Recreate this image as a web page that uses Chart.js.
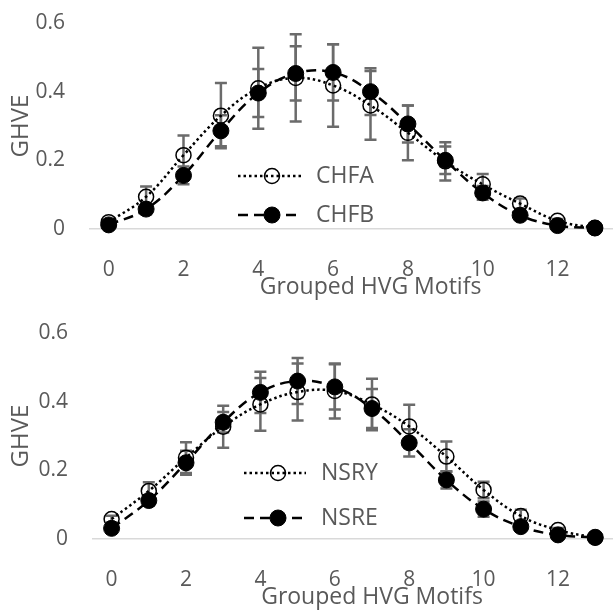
<!DOCTYPE html>
<html>
<head>
<meta charset="utf-8">
<script src="https://cdn.jsdelivr.net/npm/chart.js@4"></script>
<style>
  body { margin: 0; background: #fff; }
  .page { width: 613px; height: 611px; overflow: hidden; }
  .box { position: relative; width: 660px; }
</style>
</head>
<body>
<div class="page">
  <div class="box" style="height:305px"><canvas id="topChart"></canvas></div>
  <div class="box" style="height:306px"><canvas id="bottomChart"></canvas></div>
</div>
<script>
// x categories and tick labels
const motifs = [0, 1, 2, 3, 4, 5, 6, 7, 8, 9, 10, 11, 12, 13];
const xTicks = [0, 2, 4, 6, 8, 10, 12];
const yTicks = [0, 0.2, 0.4, 0.6];

// top panel
const chfa    = [0.02, 0.094, 0.215, 0.33, 0.41, 0.44, 0.418, 0.36, 0.28, 0.197, 0.13, 0.074, 0.024, 0.003];
const chfaErr = [0.005, 0.03, 0.057, 0.095, 0.118, 0.127, 0.12, 0.1, 0.08, 0.056, 0.03, 0.015, 0.005, 0.001];
const chfb    = [0.012, 0.058, 0.156, 0.286, 0.396, 0.453, 0.456, 0.4, 0.306, 0.2, 0.105, 0.04, 0.01, 0.003];
const chfbErr = [0.004, 0.015, 0.026, 0.045, 0.07, 0.079, 0.082, 0.068, 0.054, 0.04, 0.02, 0.01, 0.004, 0.001];

// bottom panel
const nsry    = [0.058, 0.14, 0.237, 0.327, 0.392, 0.428, 0.431, 0.392, 0.328, 0.24, 0.143, 0.067, 0.026, 0.004];
const nsryErr = [0.01, 0.025, 0.045, 0.061, 0.077, 0.083, 0.08, 0.075, 0.063, 0.044, 0.024, 0.018, 0.006, 0.001];
const nsre    = [0.031, 0.112, 0.222, 0.34, 0.427, 0.46, 0.443, 0.38, 0.28, 0.172, 0.087, 0.036, 0.012, 0.005];
const nsreErr = [0.008, 0.015, 0.035, 0.03, 0.06, 0.067, 0.066, 0.057, 0.04, 0.025, 0.022, 0.01, 0.004, 0.001];

const textColor = '#595959';
const fontFamily = '"Open Sans", sans-serif';

// grey error bars, drawn under the lines
const errBars = {
  id: 'errBars',
  beforeDatasetsDraw(chart) {
    const { ctx, scales: { x, y } } = chart;
    ctx.save();
    ctx.strokeStyle = '#6b6b6b';
    ctx.lineWidth = 2.5;
    chart.data.datasets.forEach(ds => {
      ds.data.forEach((p, i) => {
        const e = ds.err[i];
        const px = x.getPixelForValue(p.x);
        const t = y.getPixelForValue(p.y + e);
        const b = y.getPixelForValue(p.y - e);
        ctx.beginPath();
        ctx.moveTo(px, t); ctx.lineTo(px, b);
        ctx.moveTo(px - 6, t); ctx.lineTo(px + 6, t);
        ctx.moveTo(px - 6, b); ctx.lineTo(px + 6, b);
        ctx.stroke();
      });
    });
    ctx.restore();
  }
};

// legend sitting inside the plot
const insideLegend = {
  id: 'insideLegend',
  afterDraw(chart, args, o) {
    const ctx = chart.ctx;
    chart.data.datasets.forEach((ds, i) => {
      const yy = o.ys[i];
      ctx.save();
      ctx.strokeStyle = ds.borderColor;
      ctx.lineWidth = ds.borderWidth;
      ctx.setLineDash(ds.borderDash);
      ctx.beginPath();
      ctx.moveTo(o.x0, yy); ctx.lineTo(o.x1, yy);
      ctx.stroke();
      ctx.setLineDash([]);
      ctx.beginPath();
      ctx.arc(o.xm, yy, ds.pointRadius, 0, Math.PI * 2);
      ctx.fillStyle = ds.pointBackgroundColor;
      ctx.fill();
      ctx.lineWidth = ds.pointBorderWidth;
      ctx.strokeStyle = ds.pointBorderColor;
      ctx.stroke();
      ctx.fillStyle = textColor;
      ctx.font = '23px ' + fontFamily;
      ctx.textBaseline = 'middle';
      ctx.fillText(ds.label, o.tx, yy);
      ctx.restore();
    });
  }
};

function makeChart(id, names, a, aErr, b, bErr, o) {
  return new Chart(document.getElementById(id), {
    type: 'line',
    data: {
      datasets: [
        {
          label: names[0],
          data: motifs.map((m, i) => ({ x: m, y: a[i] })),
          err: aErr,
          borderColor: '#000', borderWidth: 2.5, borderDash: [2.5, 3], tension: 0.4,
          pointRadius: 7.5, pointBackgroundColor: 'rgba(0,0,0,0)',
          pointBorderColor: '#000', pointBorderWidth: 1.5,
          order: 1, clip: false
        },
        {
          label: names[1],
          data: motifs.map((m, i) => ({ x: m, y: b[i] })),
          err: bErr,
          borderColor: '#000', borderWidth: 2.5, borderDash: [10, 6], tension: 0.4,
          pointRadius: 8, pointBackgroundColor: '#000',
          pointBorderColor: '#000', pointBorderWidth: 1,
          order: 0, clip: false
        }
      ]
    },
    options: {
      responsive: true,
      maintainAspectRatio: false,
      animation: false,
      layout: { padding: { top: o.top, right: 2.5, bottom: 0, left: 0 } },
      plugins: {
        legend: { display: false },
        tooltip: { enabled: false },
        insideLegend: o.legend
      },
      scales: {
        x: {
          type: 'linear', min: -0.5, max: 14.5,
          grid: { display: false, drawTicks: false },
          border: { color: '#d9d9d9', width: 1.5 },
          afterBuildTicks: s => { s.ticks = xTicks.map(v => ({ value: v })); },
          afterFit: s => { s.height = o.xHeight; s.paddingLeft = 0; s.paddingRight = 0; },
          ticks: { color: textColor, font: { family: fontFamily, size: 21 }, padding: o.tickPad, maxRotation: 0, autoSkip: false },
          title: { display: true, text: 'Grouped HVG Motifs', color: textColor,
                   font: { family: fontFamily, size: 23 }, padding: { top: 0, bottom: o.titlePad } }
        },
        y: {
          min: 0, max: 0.6,
          grid: { display: false, drawTicks: false },
          border: { display: false },
          afterBuildTicks: s => { s.ticks = yTicks.map(v => ({ value: v })); },
          afterFit: s => { s.width = o.yWidth; s.paddingTop = 0; s.paddingBottom = 0; },
          ticks: { color: textColor, font: { family: fontFamily, size: 21 }, padding: 25,
                   callback: v => String(+v.toFixed(1)) },
          title: { display: true, text: 'GHVE', color: textColor,
                   font: { family: fontFamily, size: 24 }, padding: { top: 7, bottom: 0 } }
        }
      }
    },
    plugins: [errBars, insideLegend]
  });
}

makeChart('topChart', ['CHFA', 'CHFB'], chfa, chfaErr, chfb, chfbErr, {
  top: 23, xHeight: 76, yWidth: 90, tickPad: 28, titlePad: 4,
  legend: { x0: 238, x1: 302, xm: 272, tx: 316, ys: [176, 215] }
});

makeChart('bottomChart', ['NSRY', 'NSRE'], nsry, nsryErr, nsre, nsreErr, {
  top: 28, xHeight: 72, yWidth: 93, tickPad: 28, titlePad: 0,
  legend: { x0: 244, x1: 306, xm: 278, tx: 321, ys: [168, 213] }
});
</script>
</body>
</html>
